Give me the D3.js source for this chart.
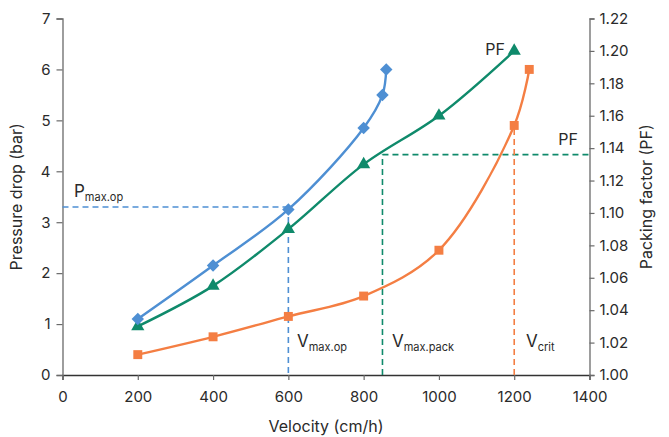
<!DOCTYPE html>
<html><head><meta charset="utf-8">
<script src="https://cdn.jsdelivr.net/npm/d3@7"></script>
<style>
html,body{margin:0;padding:0;background:#fff;}
svg{display:block;font-family:Inter,"Noto Sans",sans-serif;}
</style></head>
<body>
<svg id="chart" width="669" height="437"></svg>
<script>
// ---- data ----
const xTicks = [0,200,400,600,800,1000,1200,1400];
const yLeftTicks = [0,1,2,3,4,5,6,7];
const yRightTicks = [1.00,1.02,1.04,1.06,1.08,1.10,1.12,1.14,1.16,1.18,1.20,1.22];

const blueVelocity = [200,400,600,800,850,860];
const bluePressure = [1.1,2.15,3.25,4.85,5.5,6.0];

const greenVelocity = [200,400,600,800,1000,1200];
const greenPF = [1.03,1.055,1.09,1.13,1.16,1.20];

const orangeVelocity = [200,400,600,800,1000,1200,1240];
const orangePressure = [0.4,0.75,1.15,1.55,2.45,4.9,6.0];

const pMaxOp = 3.3, vMaxOp = 600;
const vMaxPack = 850, pfLine = 1.136;
const vCrit = 1200, pCrit = 4.9;

const xTitle = "Velocity (cm/h)";
const yLeftTitle = "Pressure drop (bar)";
const yRightTitle = "Packing factor (PF)";

// ---- styles ----
const cBlue = "#4e8fd3", cGreen = "#0f8a6b", cOrange = "#f47e43";
const svg = d3.select("#chart");
const L = 62.5, R = 589.5, T = 18.5, B = 375;

const x = d3.scaleLinear().domain([0,1400]).range([L,R]);
const yL = d3.scaleLinear().domain([0,7]).range([B,T]);
const yR = d3.scaleLinear().domain([1.00,1.22]).range([B,T]);

// axes
const gx = svg.append("g").attr("transform",`translate(0,${B})`)
  .call(d3.axisBottom(x).tickValues(xTicks).tickSize(5).tickPadding(11).tickFormat(d3.format("d")));
const gl = svg.append("g").attr("transform",`translate(${L},0)`)
  .call(d3.axisLeft(yL).tickValues(yLeftTicks).tickSize(6).tickPadding(6).tickFormat(d3.format("d")));
const gr = svg.append("g").attr("transform",`translate(${R},0)`)
  .call(d3.axisRight(yR).tickValues(yRightTicks).tickSize(5).tickPadding(5).tickFormat(d3.format(".2f")));
[gx,gl,gr].forEach(g=>{
  g.select(".domain").attr("stroke","#6a6a6a").attr("stroke-width",1.3);
  g.selectAll(".tick line").attr("stroke","#6a6a6a").attr("stroke-width",1.2);
  g.selectAll(".tick text").attr("fill","#2a2a2a").style("font-size","15px").style("font-family","Inter,'Noto Sans',sans-serif");
});
gx.select(".domain").attr("stroke","#333");

// titles
svg.append("text").attr("x",(L+R)/2).attr("y",432).attr("text-anchor","middle")
  .style("font-size","16px").attr("fill","#2a2a2a").text(xTitle);
svg.append("text").attr("transform",`translate(22,${(T+B)/2}) rotate(-90)`).attr("text-anchor","middle")
  .style("font-size","16px").attr("fill","#2a2a2a").text(yLeftTitle);
svg.append("text").attr("transform",`translate(652,${(T+B)/2}) rotate(-90)`).attr("text-anchor","middle")
  .style("font-size","16px").attr("fill","#2a2a2a").text(yRightTitle);

// reference dashed lines
const dash = "6,4";
function dline(x1,y1,x2,y2,c){
  svg.append("line").attr("x1",x1).attr("y1",y1).attr("x2",x2).attr("y2",y2)
    .attr("stroke",c).attr("stroke-width",1.6).attr("stroke-dasharray",dash);
}
dline(x(0),yL(pMaxOp),x(vMaxOp),yL(pMaxOp),cBlue);
dline(x(vMaxOp),yL(pMaxOp),x(vMaxOp),yL(0),cBlue);
dline(x(vMaxPack),yR(1.00),x(vMaxPack),yR(pfLine),cGreen);
dline(x(vMaxPack),yR(pfLine),x(1400),yR(pfLine),cGreen);
dline(x(vCrit),yL(0),x(vCrit),yL(pCrit),cOrange);

// series
function series(xs,ys,yScale,color,sym,size,rot){
  const pts = xs.map((v,i)=>[x(v),yScale(ys[i])]);
  svg.append("path").datum(pts)
    .attr("d",d3.line().curve(d3.curveCatmullRom.alpha(0.5)))
    .attr("fill","none").attr("stroke",color).attr("stroke-width",2.4);
  svg.append("g").selectAll("path").data(pts).join("path")
    .attr("transform",d=>`translate(${d[0]},${d[1]}) rotate(${rot||0})`)
    .attr("d",d3.symbol().type(sym).size(size))
    .attr("fill",color);
}
series(orangeVelocity,orangePressure,yL,cOrange,d3.symbolSquare,80,0);
series(greenVelocity,greenPF,yR,cGreen,d3.symbolTriangle,75,0);
series(blueVelocity,bluePressure,yL,cBlue,d3.symbolSquare,78,45);

// annotations
function subLabel(xp,yp,main,sub){
  const t = svg.append("text").attr("x",xp).attr("y",yp).attr("fill","#2a2a2a");
  t.append("tspan").style("font-size","17px").text(main);
  t.append("tspan").style("font-size","11px").attr("dy",4).text(sub);
}
subLabel(74,197,"P","max.op");
subLabel(297,347,"V","max.op");
subLabel(392,347,"V","max.pack");
subLabel(526,347,"V","crit");
svg.append("text").attr("x",505).attr("y",55).attr("text-anchor","end")
  .style("font-size","16px").attr("fill","#2a2a2a").text("PF");
svg.append("text").attr("x",578).attr("y",145).attr("text-anchor","end")
  .style("font-size","16px").attr("fill","#2a2a2a").text("PF");
</script>
</body></html>
